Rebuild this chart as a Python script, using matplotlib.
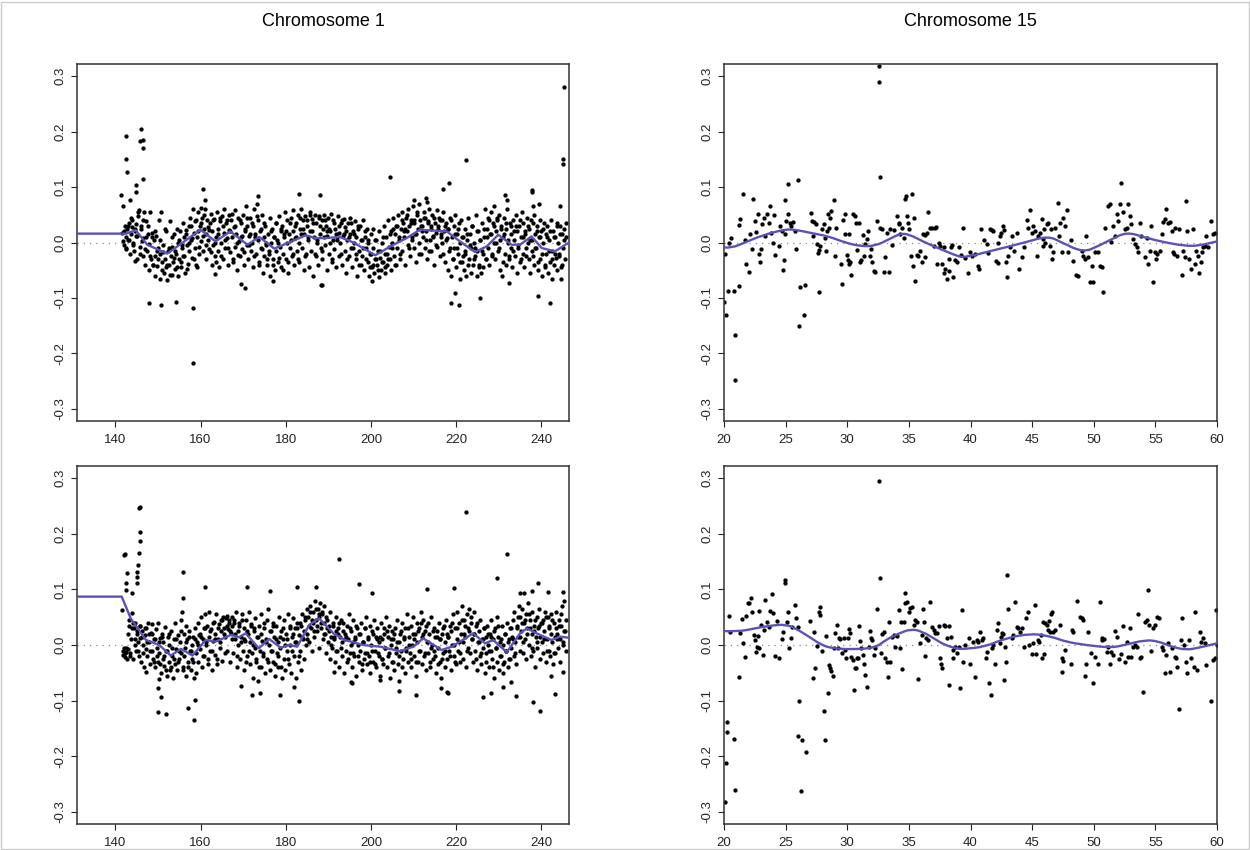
import matplotlib
matplotlib.use("Agg")
import matplotlib.pyplot as plt
from matplotlib.patches import Rectangle, PathPatch
from matplotlib.path import Path

plt.rcParams['font.family'] = ['Liberation Sans', 'DejaVu Sans']

# ---------------- titles / ticks ----------------
titles = ["Chromosome 1", "Chromosome 15"]
chr1_xticks = [140, 160, 180, 200, 220, 240]
chr15_xticks = [20, 25, 30, 35, 40, 45, 50, 55, 60]
yticks = [-0.3, -0.2, -0.1, 0.0, 0.1, 0.2, 0.3]
ytick_labels = ["-0.3", "-0.2", "-0.1", "0.0", "0.1", "0.2", "0.3"]
chr1_xlim = (131.0, 246.5)
chr15_xlim = (20.0, 60.0)

# ---------------- top-left: chromosome 1, sample A ----------------
tl_x = [
 141.6,141.8,142.0,142.2,142.4,142.6,142.8,143.0,
 143.2,143.4,143.6,143.8,144.0,144.2,144.4,144.6,144.8,145.0,
 145.2,145.4,145.6,145.8,146.0,146.2,146.4,146.6,146.8,147.0,
 147.2,147.4,147.6,147.8,148.0,148.2,148.4,148.6,148.8,149.0,
 149.2,149.4,149.6,149.8,150.0,150.2,150.4,150.6,150.8,151.0,
 151.2,151.4,151.6,151.8,152.0,152.2,152.4,152.6,152.8,153.0,
 153.2,153.4,153.6,153.8,154.0,154.2,154.4,154.6,154.8,155.0,
 155.2,155.4,155.6,155.8,156.0,156.2,156.4,156.6,156.8,157.0,
 157.2,157.4,157.6,157.8,158.0,158.2,158.4,158.6,158.8,159.0,
 159.2,159.4,159.6,159.8,160.0,160.2,160.4,160.6,160.8,161.0,
 161.2,161.4,161.6,161.8,162.0,162.2,162.4,162.6,162.8,163.0,
 163.2,163.4,163.6,163.8,164.0,164.2,164.4,164.6,164.8,165.0,
 165.2,165.4,165.6,165.8,166.0,166.2,166.4,166.6,166.8,167.0,
 167.2,167.4,167.6,167.8,168.0,168.2,168.4,168.6,168.8,169.0,
 169.2,169.4,169.6,169.8,170.0,170.2,170.4,170.6,170.8,171.0,
 171.2,171.4,171.6,171.8,172.0,172.2,172.4,172.6,172.8,173.0,
 173.2,173.4,173.6,173.8,174.0,174.2,174.4,174.6,174.8,175.0,
 175.2,175.4,175.6,175.8,176.0,176.2,176.4,176.6,176.8,177.0,
 177.2,177.4,177.6,177.8,178.0,178.2,178.4,178.6,178.8,179.0,
 179.2,179.4,179.6,179.8,180.0,180.2,180.4,180.6,180.8,181.0,
 181.2,181.4,181.6,181.8,182.0,182.2,182.4,182.6,182.8,183.0,
 183.2,183.4,183.6,183.8,184.0,184.2,184.4,184.6,184.8,185.0,
 185.2,185.4,185.6,185.8,186.0,186.2,186.4,186.6,186.8,187.0,
 187.2,187.4,187.6,187.8,188.0,188.2,188.4,188.6,188.8,189.0,
 189.2,189.4,189.6,189.8,190.0,190.2,190.4,190.6,190.8,191.0,
 191.2,191.4,191.6,191.8,192.0,192.2,192.4,192.6,192.8,193.0,
 193.2,193.4,193.6,193.8,194.0,194.2,194.4,194.6,194.8,195.0,
 195.2,195.4,195.6,195.8,196.0,196.2,196.4,196.6,196.8,197.0,
 197.2,197.4,197.6,197.8,198.0,198.2,198.4,198.6,198.8,199.0,
 199.2,199.4,199.6,199.8,200.0,200.2,200.4,200.6,200.8,201.0,
 201.2,201.4,201.6,201.8,202.0,202.2,202.4,202.6,202.8,203.0,
 203.2,203.4,203.6,203.8,204.0,204.2,204.4,204.6,204.8,205.0,
 205.2,205.4,205.6,205.8,206.0,206.2,206.4,206.6,206.8,207.0,
 207.2,207.4,207.6,207.8,208.0,208.2,208.4,208.6,208.8,209.0,
 209.2,209.4,209.6,209.8,210.0,210.2,210.4,210.6,210.8,211.0,
 211.2,211.4,211.6,211.8,212.0,212.2,212.4,212.6,212.8,213.0,
 213.2,213.4,213.6,213.8,214.0,214.2,214.4,214.6,214.8,215.0,
 215.2,215.4,215.6,215.8,216.0,216.2,216.4,216.6,216.8,217.0,
 217.2,217.4,217.6,217.8,218.0,218.2,218.4,218.6,218.8,219.0,
 219.2,219.4,219.6,219.8,220.0,220.2,220.4,220.6,220.8,221.0,
 221.2,221.4,221.6,221.8,222.0,222.2,222.4,222.6,222.8,223.0,
 223.2,223.4,223.6,223.8,224.0,224.2,224.4,224.6,224.8,225.0,
 225.2,225.4,225.6,225.8,226.0,226.2,226.4,226.6,226.8,227.0,
 227.2,227.4,227.6,227.8,228.0,228.2,228.4,228.6,228.8,229.0,
 229.2,229.4,229.6,229.8,230.0,230.2,230.4,230.6,230.8,231.0,
 231.2,231.4,231.6,231.8,232.0,232.2,232.4,232.6,232.8,233.0,
 233.2,233.4,233.6,233.8,234.0,234.2,234.4,234.6,234.8,235.0,
 235.2,235.4,235.6,235.8,236.0,236.2,236.4,236.6,236.8,237.0,
 237.2,237.4,237.6,237.8,238.0,238.2,238.4,238.6,238.8,239.0,
 239.2,239.4,239.6,239.8,240.0,240.2,240.4,240.6,240.8,241.0,
 241.2,241.4,241.6,241.8,242.0,242.2,242.4,242.6,242.8,243.0,
 243.2,243.4,243.6,243.8,244.0,244.2,244.4,244.6,244.8,245.0,
 245.3,245.6,245.9,
]
tl_y = [
 .018,.002,-.005,.030,.010,-.012,.024,.004,
 .035,-.020,.015,.028,.040,.000,-.015,.020,.033,-.030,
 .012,.055,.058,-.008,.025,.002,.040,-.025,.055,-.040,
 .010,-.015,.030,-.050,-.002,.055,-.030,.018,-.040,.005,
 -.060,-.025,.012,-.042,-.010,.040,-.065,-.020,.055,-.035,
 -.005,-.055,-.030,.020,-.045,-.068,-.015,-.040,.038,-.025,
 -.058,-.008,-.035,.015,-.048,-.020,.025,-.060,.000,-.030,
 .020,-.045,-.010,.035,-.025,.010,-.055,.022,-.005,-.038,
 .030,-.015,.045,.005,-.028,.060,.018,-.010,.038,-.040,
 .010,.055,-.020,.030,.062,.002,.045,-.015,.025,.060,
 .015,-.030,.040,.005,-.012,.035,.052,-.040,.020,-.005,
 .042,-.025,.010,.055,-.015,.025,-.045,.038,.000,.048,
 -.030,.018,.060,-.010,.035,.008,-.040,.050,.022,-.018,
 .040,.010,-.035,.028,.058,-.008,.015,-.050,.045,.002,
 -.025,.035,.010,-.012,.050,-.040,.020,.065,-.005,.030,
 -.030,.012,.045,-.015,.000,.030,-.045,.060,.015,-.020,
 .070,.005,.040,-.035,.020,-.010,.050,-.055,.010,-.025,
 .030,-.005,-.040,.015,-.020,.045,-.060,.000,.025,-.030,
 .010,-.050,.035,-.015,.005,-.035,.048,-.008,.020,-.045,
 .030,-.020,.010,.055,-.030,.000,.040,-.055,.015,-.010,
 .045,-.025,.020,.058,-.040,.008,.035,-.015,.050,.000,
 -.035,.025,.060,-.010,.040,-.050,.015,.048,-.020,.030,
 .005,-.045,.055,.020,-.015,.042,-.060,.010,.050,-.025,
 .035,.000,-.040,.048,.015,-.010,.040,-.030,.025,.050,
 -.005,.030,-.050,.012,.045,-.020,.020,.052,-.035,.005,
 .040,-.012,.025,-.045,.010,.048,-.025,.018,.000,.035,
 -.040,.012,.042,-.015,.028,-.055,.005,.035,-.025,.015,
 .045,-.010,-.045,.020,.000,.038,-.030,.010,-.060,.025,
 -.015,.030,-.040,.005,-.025,.040,-.050,.010,-.010,.025,
 -.035,.000,-.060,-.020,.015,-.045,-.010,.025,-.055,-.030,
 .005,-.040,-.015,-.062,.020,-.028,-.050,.000,-.035,.030,
 -.020,-.055,.010,-.040,.040,-.008,-.030,.020,-.050,.000,
 .045,-.025,.015,-.040,.030,-.010,.050,.005,-.030,.025,
 .055,-.015,.035,.010,-.040,.045,.020,-.005,.060,.030,
 -.025,.040,.010,.065,-.010,.035,.015,-.035,.050,.025,
 .000,.070,.040,-.020,.030,.010,.055,-.010,.045,.020,
 -.030,.038,.060,.005,.025,-.015,.050,.012,-.040,.035,
 .018,.058,-.008,.030,.045,-.025,.010,.040,.000,.055,
 .020,-.035,.035,.008,-.050,.025,-.015,.045,-.060,.010,
 -.030,.030,-.010,.050,-.045,.015,-.020,.035,-.065,.000,
 .040,-.035,.010,-.050,.025,-.015,-.060,.005,.045,-.030,
 .015,-.055,-.010,.030,-.040,.000,-.025,.050,-.060,-.015,
 .020,-.040,.005,-.055,.035,-.020,-.045,.010,.060,-.030,
 .025,-.010,.045,-.040,.015,.055,-.025,.035,.000,.065,
 -.030,.020,.040,-.015,.050,.005,-.050,.030,-.060,.010,
 .045,-.020,.025,-.040,.060,.000,-.030,.035,-.010,.015,
 -.045,.040,.005,-.025,.050,-.055,.020,-.005,.030,-.035,
 .010,.055,-.020,.035,-.045,.015,-.010,.045,.000,-.030,
 .025,-.055,.040,.005,-.025,.050,-.040,.015,-.010,.030,
 -.050,.010,.040,-.030,.020,-.060,.000,.035,-.045,.015,
 -.020,.030,-.055,.005,-.035,.040,-.015,-.065,.020,-.040,
 .010,-.028,.035,-.050,.000,-.020,.030,-.045,.015,-.010,
 .025,-.030,.010,
]
# second pass of probes in the same chromosome-1 window (denser core of the cloud)
tl_x2 = [
 142.1,142.5,142.9,143.3,143.7, 144.1,144.5,144.9,145.3,145.7, 146.1,146.5,146.9,147.3,147.7,
 148.1,148.5,148.9,149.3,149.7, 150.1,150.5,150.9,151.3,151.7, 152.1,152.5,152.9,153.3,153.7,
 154.1,154.5,154.9,155.3,155.7, 156.1,156.5,156.9,157.3,157.7, 158.1,158.5,158.9,159.3,159.7,
 160.1,160.5,160.9,161.3,161.7, 162.1,162.5,162.9,163.3,163.7, 164.1,164.5,164.9,165.3,165.7,
 166.1,166.5,166.9,167.3,167.7, 168.1,168.5,168.9,169.3,169.7, 170.1,170.5,170.9,171.3,171.7,
 172.1,172.5,172.9,173.3,173.7, 174.1,174.5,174.9,175.3,175.7, 176.1,176.5,176.9,177.3,177.7,
 178.1,178.5,178.9,179.3,179.7, 180.1,180.5,180.9,181.3,181.7, 182.1,182.5,182.9,183.3,183.7,
 184.1,184.5,184.9,185.3,185.7, 186.1,186.5,186.9,187.3,187.7, 188.1,188.5,188.9,189.3,189.7,
 190.1,190.5,190.9,191.3,191.7, 192.1,192.5,192.9,193.3,193.7, 194.1,194.5,194.9,195.3,195.7,
 196.1,196.5,196.9,197.3,197.7, 198.1,198.5,198.9,199.3,199.7, 200.1,200.5,200.9,201.3,201.7,
 202.1,202.5,202.9,203.3,203.7, 204.1,204.5,204.9,205.3,205.7, 206.1,206.5,206.9,207.3,207.7,
 208.1,208.5,208.9,209.3,209.7, 210.1,210.5,210.9,211.3,211.7, 212.1,212.5,212.9,213.3,213.7,
 214.1,214.5,214.9,215.3,215.7, 216.1,216.5,216.9,217.3,217.7, 218.1,218.5,218.9,219.3,219.7,
 220.1,220.5,220.9,221.3,221.7, 222.1,222.5,222.9,223.3,223.7, 224.1,224.5,224.9,225.3,225.7,
 226.1,226.5,226.9,227.3,227.7, 228.1,228.5,228.9,229.3,229.7, 230.1,230.5,230.9,231.3,231.7,
 232.1,232.5,232.9,233.3,233.7, 234.1,234.5,234.9,235.3,235.7, 236.1,236.5,236.9,237.3,237.7,
 238.1,238.5,238.9,239.3,239.7, 240.1,240.5,240.9,241.3,241.7, 242.1,242.5,242.9,243.3,243.7,
 244.1,244.5,244.9,245.3,245.7,
]
tl_y2 = [
 .020,-.010,.030,.005,.045, -.005,.025,.012,.048,-.020, .030,.008,-.012,.038,.015,
 -.025,.010,-.040,.020,-.015, -.030,.005,-.050,-.018,.025, -.040,-.010,-.058,.010,-.028,
 -.015,-.045,.005,-.035,-.005, -.025,.015,-.048,.000,.030, .008,-.030,.040,.020,-.008,
 .035,.012,.050,-.005,.028, .022,-.018,.040,.000,-.035, .015,.045,-.025,.030,.005,
 .040,-.010,.020,.052,-.030, .030,.000,-.022,.040,.012, -.018,.025,.045,-.005,.015,
 .035,-.025,.010,.048,-.040, .025,-.012,.035,.000,-.030, -.015,.020,-.040,.010,.035,
 .000,-.028,.025,-.050,.015, .020,-.035,.035,.005,-.020, .030,.010,-.030,.045,.015,
 .025,-.025,.040,.010,.050, .020,.035,-.020,.005,.045, .030,-.015,.010,.040,.020,
 .025,.000,-.030,.035,.015, .005,.030,-.020,.040,.015, .020,-.030,.010,.035,-.010,
 .015,-.020,.030,-.040,.005, -.010,.020,-.030,.005,-.045, -.020,-.040,.005,-.030,-.050,
 -.015,-.035,.010,-.045,-.020, -.030,.015,-.010,.025,-.040, .030,.010,-.020,.040,.020,
 .025,.050,-.010,.035,.005, .040,.015,.055,-.020,.030, .020,.045,.005,.035,-.015,
 .030,.010,.045,-.005,.025, .040,.015,-.020,.030,.005, .025,-.010,.040,-.030,.015,
 -.010,.025,-.035,.010,-.025, -.020,.015,-.040,-.005,.030, -.030,-.010,.020,-.045,.005,
 -.015,.025,-.030,.010,.040, .015,-.020,.030,.000,.045, -.010,.025,-.035,.015,.035,
 .005,-.025,.030,-.015,.020, .030,-.010,.040,-.030,.010, .020,-.025,.030,.005,-.015,
 .035,-.010,.020,-.035,.010, -.020,.025,-.040,.010,-.015, .020,-.030,.010,-.020,.030,
 -.025,.015,-.040,.005,.035,
]
tl_out_x = [142.5,142.5,142.7,146.0,145.9,146.4,146.5,146.6,144.9,144.9,141.4,141.9,143.5,147.8,150.7,
            154.2,158.3,158.3,160.5,161.1,169.5,170.5,173.4,183.0,188.1,188.4,144.6,177.1,163.5,159.1,
            245.3,245.0,245.0,222.3,204.5,216.9,218.3,218.8,220.6,219.7,225.5,239.2,242.1,244.7,244.5,
            188.2,200.2,232.5,237.7,237.9,231.5,231.9,213.0,213.2,210.1,238.0,239.5]
tl_out_y = [.193,.150,.127,.204,.183,.185,.170,.115,.104,.092,.086,.065,.077,-.109,-.113,
            -.108,-.118,-.217,.097,.077,-.074,-.082,.083,.088,.086,-.076,-.034,-.070,-.056,-.044,
            .280,.150,.141,.148,.118,.097,.108,-.110,-.113,-.091,-.100,-.097,-.110,-.065,.065,
            -.076,-.070,-.073,.095,.092,.086,.077,.080,.073,.077,.065,.070]
tl_line_x = [131.0,142.5,144.8,147.5,151.8,152.2,160.0,163.5,167.0,171.0,173.8,177.3,180.8,184.7,187.0,
             189.4,192.7,195.9,201.0,205.3,208.4,211.5,217.8,220.9,224.4,227.2,229.9,233.0,235.0,237.7,
             240.1,243.2,246.5]
tl_line_y = [0.016,0.016,0.022,-0.004,-0.019,-0.020,0.023,0.002,0.020,-0.004,0.010,-0.011,0.000,0.013,0.008,
             0.008,0.010,0.000,-0.023,-0.004,0.008,0.023,0.020,0.002,-0.017,-0.007,0.014,-0.004,-0.004,0.011,
             -0.010,-0.016,0.000]

# ---------------- bottom-left: chromosome 1, sample B ----------------
bl_x = [
 141.7,141.9,142.1,142.3,142.5,142.7,142.9,143.1,
 143.3,143.5,143.7,143.9,144.1,144.3,144.5,144.7,144.9,145.1,
 145.3,145.5,145.7,145.9,146.1,146.3,146.5,146.7,146.9,147.1,
 147.3,147.5,147.7,147.9,148.1,148.3,148.5,148.7,148.9,149.1,
 149.3,149.5,149.7,149.9,150.1,150.3,150.5,150.7,150.9,151.1,
 151.3,151.5,151.7,151.9,152.1,152.3,152.5,152.7,152.9,153.1,
 153.3,153.5,153.7,153.9,154.1,154.3,154.5,154.7,154.9,155.1,
 155.3,155.5,155.7,155.9,156.1,156.3,156.5,156.7,156.9,157.1,
 157.3,157.5,157.7,157.9,158.1,158.3,158.5,158.7,158.9,159.1,
 159.3,159.5,159.7,159.9,160.1,160.3,160.5,160.7,160.9,161.1,
 161.3,161.5,161.7,161.9,162.1,162.3,162.5,162.7,162.9,163.1,
 163.3,163.5,163.7,163.9,164.1,164.3,164.5,164.7,164.9,165.1,
 165.3,165.5,165.7,165.9,166.1,166.3,166.5,166.7,166.9,167.1,
 167.3,167.5,167.7,167.9,168.1,168.3,168.5,168.7,168.9,169.1,
 169.3,169.5,169.7,169.9,170.1,170.3,170.5,170.7,170.9,171.1,
 171.3,171.5,171.7,171.9,172.1,172.3,172.5,172.7,172.9,173.1,
 173.3,173.5,173.7,173.9,174.1,174.3,174.5,174.7,174.9,175.1,
 175.3,175.5,175.7,175.9,176.1,176.3,176.5,176.7,176.9,177.1,
 177.3,177.5,177.7,177.9,178.1,178.3,178.5,178.7,178.9,179.1,
 179.3,179.5,179.7,179.9,180.1,180.3,180.5,180.7,180.9,181.1,
 181.3,181.5,181.7,181.9,182.1,182.3,182.5,182.7,182.9,183.1,
 183.3,183.5,183.7,183.9,184.1,184.3,184.5,184.7,184.9,185.1,
 185.3,185.5,185.7,185.9,186.1,186.3,186.5,186.7,186.9,187.1,
 187.3,187.5,187.7,187.9,188.1,188.3,188.5,188.7,188.9,189.1,
 189.3,189.5,189.7,189.9,190.1,190.3,190.5,190.7,190.9,191.1,
 191.3,191.5,191.7,191.9,192.1,192.3,192.5,192.7,192.9,193.1,
 193.3,193.5,193.7,193.9,194.1,194.3,194.5,194.7,194.9,195.1,
 195.3,195.5,195.7,195.9,196.1,196.3,196.5,196.7,196.9,197.1,
 197.3,197.5,197.7,197.9,198.1,198.3,198.5,198.7,198.9,199.1,
 199.3,199.5,199.7,199.9,200.1,200.3,200.5,200.7,200.9,201.1,
 201.3,201.5,201.7,201.9,202.1,202.3,202.5,202.7,202.9,203.1,
 203.3,203.5,203.7,203.9,204.1,204.3,204.5,204.7,204.9,205.1,
 205.3,205.5,205.7,205.9,206.1,206.3,206.5,206.7,206.9,207.1,
 207.3,207.5,207.7,207.9,208.1,208.3,208.5,208.7,208.9,209.1,
 209.3,209.5,209.7,209.9,210.1,210.3,210.5,210.7,210.9,211.1,
 211.3,211.5,211.7,211.9,212.1,212.3,212.5,212.7,212.9,213.1,
 213.3,213.5,213.7,213.9,214.1,214.3,214.5,214.7,214.9,215.1,
 215.3,215.5,215.7,215.9,216.1,216.3,216.5,216.7,216.9,217.1,
 217.3,217.5,217.7,217.9,218.1,218.3,218.5,218.7,218.9,219.1,
 219.3,219.5,219.7,219.9,220.1,220.3,220.5,220.7,220.9,221.1,
 221.3,221.5,221.7,221.9,222.1,222.3,222.5,222.7,222.9,223.1,
 223.3,223.5,223.7,223.9,224.1,224.3,224.5,224.7,224.9,225.1,
 225.3,225.5,225.7,225.9,226.1,226.3,226.5,226.7,226.9,227.1,
 227.3,227.5,227.7,227.9,228.1,228.3,228.5,228.7,228.9,229.1,
 229.3,229.5,229.7,229.9,230.1,230.3,230.5,230.7,230.9,231.1,
 231.3,231.5,231.7,231.9,232.1,232.3,232.5,232.7,232.9,233.1,
 233.3,233.5,233.7,233.9,234.1,234.3,234.5,234.7,234.9,235.1,
 235.3,235.5,235.7,235.9,236.1,236.3,236.5,236.7,236.9,237.1,
 237.3,237.5,237.7,237.9,238.1,238.3,238.5,238.7,238.9,239.1,
 239.3,239.5,239.7,239.9,240.1,240.3,240.5,240.7,240.9,241.1,
 241.3,241.5,241.7,241.9,242.1,242.3,242.5,242.7,242.9,243.1,
 243.3,243.5,243.7,243.9,244.1,244.3,244.5,244.7,244.9,245.1,
 245.3,245.6,245.9,
]
bl_y = [
 -.010,-.018,-.005,-.022,-.012,-.025,-.008,.035,
 .045,-.015,.010,.058,-.025,.030,.000,.040,-.010,.020,
 .005,-.020,.035,.012,-.030,.025,.000,-.040,.018,-.008,
 .030,-.020,.040,.005,-.035,.022,-.010,.038,-.025,.010,
 -.040,.028,-.005,-.030,.040,-.015,.012,-.050,.020,-.025,
 .005,-.038,.032,-.010,-.055,.015,-.030,.000,-.045,.025,
 -.020,-.060,.010,-.035,.040,-.008,-.045,.018,-.025,.005,
 .045,-.015,.060,-.040,.020,-.005,.035,-.055,.010,-.030,
 .025,-.010,-.045,.000,-.025,.015,-.060,.030,-.015,.005,
 .040,-.030,.018,-.008,.050,-.040,.010,.030,-.020,.055,
 .000,.035,-.025,.015,.060,-.010,.028,-.045,.008,.042,
 -.018,.020,.055,-.035,.010,.038,-.005,.045,.025,-.028,
 .050,.030,.015,.048,-.010,.052,.028,.040,-.030,.022,
 .050,.035,-.015,.045,.010,.060,-.040,.025,.000,.040,
 -.025,.015,.055,-.010,.030,-.045,.008,.045,-.020,.020,
 .060,-.035,.005,.038,-.015,-.060,.025,-.005,.048,-.030,
 .015,-.065,.035,-.010,.055,-.040,.008,-.020,.030,-.050,
 .010,.045,-.025,.065,.000,-.045,.025,-.010,.040,-.030,
 .015,-.055,.035,-.015,.005,-.040,.050,-.005,.025,-.060,
 .010,-.025,.045,-.045,.020,-.010,.055,-.035,.000,.030,
 -.050,.015,.048,-.020,.030,-.060,.005,.040,-.030,.018,
 -.010,.035,-.045,.055,.010,-.025,.045,.000,.065,.020,
 .050,.005,.070,.030,-.010,.060,.040,.015,.080,.045,
 .025,.065,-.005,.050,.075,.030,.055,.010,.040,.070,
 .020,-.015,.045,.005,.035,-.025,.060,.015,-.005,.040,
 .010,-.030,.025,.050,-.010,.030,-.040,.015,.045,-.020,
 .005,.040,-.050,.020,-.010,.035,-.030,.010,.055,-.015,
 .025,-.040,.005,.045,-.020,.015,-.055,.030,.000,-.030,
 .020,-.010,.040,-.045,.005,-.025,.030,-.015,.050,-.035,
 .010,-.020,.035,-.050,.000,.025,-.030,.045,-.010,.015,
 -.040,.030,-.015,.005,-.055,.040,-.025,.010,-.035,.020,
 -.005,.050,-.040,.015,-.020,.035,-.060,.000,.025,-.030,
 .010,-.045,.030,-.015,.045,-.035,.005,-.065,.020,-.010,
 .040,-.025,.010,-.050,.030,-.005,.055,-.030,.015,-.015,
 .035,-.040,.000,.050,-.020,.020,-.055,.040,.005,-.030,
 .030,-.010,.060,-.035,.015,.045,-.020,.025,-.045,.005,
 .040,-.015,.020,-.040,.050,.000,-.025,.030,-.010,.015,
 -.050,.025,-.005,.040,-.030,.010,-.060,.020,-.015,.035,
 -.040,.005,.045,-.025,.015,-.010,.035,-.045,.025,.000,
 .055,-.020,.030,-.035,.010,.060,-.010,.040,-.030,.020,
 .070,.005,-.025,.045,.015,-.040,.055,-.005,.030,.065,
 -.015,.040,.010,-.030,.060,.020,-.010,.035,-.045,.005,
 .025,-.020,.045,-.035,.010,-.005,.030,-.050,.015,-.015,
 .035,.000,-.040,.020,-.010,.045,-.025,.010,-.060,.030,
 -.005,.050,-.030,.015,-.045,.005,-.020,.035,-.050,.000,
 -.030,.020,-.010,.040,-.040,.010,-.025,.030,-.005,.015,
 .045,-.020,.060,.005,-.035,.035,.015,.070,-.010,.050,
 .025,.065,-.015,.040,.010,.055,-.025,.030,.075,.000,
 .045,-.020,.020,.060,-.010,.035,-.040,.015,.050,-.005,
 .030,.065,-.025,.040,.005,.045,-.015,.025,.060,-.030,
 .010,.050,-.010,.035,-.020,.055,.005,-.035,.040,.015,
 -.015,.060,.020,-.005,.045,.010,-.030,.035,.070,.000,
 .080,.025,-.010,
]
bl_x2 = [
 142.2,142.6,143.0,143.4,143.8, 144.2,144.6,145.0,145.4,145.8, 146.2,146.6,147.0,147.4,147.8,
 148.2,148.6,149.0,149.4,149.8, 150.2,150.6,151.0,151.4,151.8, 152.2,152.6,153.0,153.4,153.8,
 154.2,154.6,155.0,155.4,155.8, 156.2,156.6,157.0,157.4,157.8, 158.2,158.6,159.0,159.4,159.8,
 160.2,160.6,161.0,161.4,161.8, 162.2,162.6,163.0,163.4,163.8, 164.2,164.6,165.0,165.4,165.8,
 166.2,166.6,167.0,167.4,167.8, 168.2,168.6,169.0,169.4,169.8, 170.2,170.6,171.0,171.4,171.8,
 172.2,172.6,173.0,173.4,173.8, 174.2,174.6,175.0,175.4,175.8, 176.2,176.6,177.0,177.4,177.8,
 178.2,178.6,179.0,179.4,179.8, 180.2,180.6,181.0,181.4,181.8, 182.2,182.6,183.0,183.4,183.8,
 184.2,184.6,185.0,185.4,185.8, 186.2,186.6,187.0,187.4,187.8, 188.2,188.6,189.0,189.4,189.8,
 190.2,190.6,191.0,191.4,191.8, 192.2,192.6,193.0,193.4,193.8, 194.2,194.6,195.0,195.4,195.8,
 196.2,196.6,197.0,197.4,197.8, 198.2,198.6,199.0,199.4,199.8, 200.2,200.6,201.0,201.4,201.8,
 202.2,202.6,203.0,203.4,203.8, 204.2,204.6,205.0,205.4,205.8, 206.2,206.6,207.0,207.4,207.8,
 208.2,208.6,209.0,209.4,209.8, 210.2,210.6,211.0,211.4,211.8, 212.2,212.6,213.0,213.4,213.8,
 214.2,214.6,215.0,215.4,215.8, 216.2,216.6,217.0,217.4,217.8, 218.2,218.6,219.0,219.4,219.8,
 220.2,220.6,221.0,221.4,221.8, 222.2,222.6,223.0,223.4,223.8, 224.2,224.6,225.0,225.4,225.8,
 226.2,226.6,227.0,227.4,227.8, 228.2,228.6,229.0,229.4,229.8, 230.2,230.6,231.0,231.4,231.8,
 232.2,232.6,233.0,233.4,233.8, 234.2,234.6,235.0,235.4,235.8, 236.2,236.6,237.0,237.4,237.8,
 238.2,238.6,239.0,239.4,239.8, 240.2,240.6,241.0,241.4,241.8, 242.2,242.6,243.0,243.4,243.8,
 244.2,244.6,245.0,245.4,245.8,
]
bl_y2 = [
 -.015,-.005,.020,-.020,.030, .040,.010,.025,-.010,.035, .015,-.015,.030,.005,.020,
 -.010,.020,-.030,.010,-.020, .005,-.035,.015,-.020,-.045, -.010,.020,-.040,-.005,-.025,
 .010,-.030,-.010,.025,-.045, -.020,.005,-.040,.015,-.010, -.030,.010,-.050,.000,.020,
 .015,-.020,.030,.005,-.035, .025,-.010,.040,.010,-.025, .030,.005,.045,.020,-.015,
 .035,.045,.025,.010,.040, .020,-.020,.035,.005,.045, .010,-.030,.025,-.010,.035,
 .000,.030,-.025,.015,-.040, .020,-.015,.040,.005,-.030, .025,-.010,.035,-.035,.010,
 -.020,.015,-.040,.030,.000, .010,-.025,.035,-.010,.020, .005,.030,-.020,.040,.015,
 .025,.050,.010,.035,.060, .045,.025,.065,.035,.055, .040,.060,.020,.050,.030,
 .025,.000,.035,.015,-.010, .020,.040,-.005,.025,.010, .015,-.025,.030,.000,-.015,
 .010,.035,-.020,.020,-.035, .005,.030,-.015,.015,-.030, -.010,.020,-.035,.010,-.020,
 .015,-.025,.030,-.005,.025, -.015,.010,-.030,.020,-.005, .005,-.020,.025,-.040,.015,
 -.010,.030,.000,-.025,.020, .010,-.030,.025,-.010,.040, .020,-.015,.035,.005,-.030,
 -.005,.025,-.020,.015,-.035, .010,-.025,.030,-.010,.020, .015,-.020,.040,.000,-.030,
 .030,.005,-.015,.045,.020, .035,-.010,.025,.050,.010, .020,-.025,.040,.005,-.015,
 .010,.030,-.030,.020,-.010, .015,-.040,.025,-.005,.035, -.020,.010,-.035,.020,-.010,
 .005,-.025,.030,.010,-.015, .030,.050,.015,.040,.005, .045,.020,.055,.030,-.005,
 .025,.045,.005,.035,.015, .040,.010,.050,-.010,.030, .020,.045,-.015,.030,.010,
 .035,.055,.005,.025,.045,
]
bl_out_x = [145.6,145.8,145.8,145.9,142.0,142.3,145.5,145.3,145.2,145.1,145.1,142.7,142.6,142.5,144.0,
            141.5,155.8,155.9,161.1,170.8,176.4,182.6,187.0,149.9,152.0,158.4,157.1,158.8,150.7,150.0,
            169.4,172.0,174.0,178.7,183.1,181.9,147.2,150.3,
            222.3,231.9,192.6,229.7,197.3,219.6,213.1,200.2,239.3,241.6,235.0,236.0,237.7,245.0,239.7,
            238.0,243.2,226.2,228.3,234.1,210.6,206.7,217.8,218.2,216.4,195.3,195.5,191.3,202.1,245.2,
            242.3,230.9,232.8]
bl_out_y = [.247,.249,.204,.187,.162,.163,.165,.144,.132,.123,.111,.129,.111,.099,.093,
            .063,.132,.084,.105,.104,.097,.105,.104,-.120,-.124,-.135,-.114,-.099,-.093,-.078,
            -.073,-.090,-.087,-.090,-.101,-.075,-.048,-.061,
            .239,.164,.154,.121,.110,.102,.100,.093,.111,.096,.093,.093,.097,.096,-.119,
            -.103,-.088,-.094,-.087,-.092,-.090,-.083,-.084,-.087,-.078,-.066,-.069,-.049,-.063,-.049,
            -.055,-.075,-.066]
bl_line_x = [131.0,141.5,143.6,147.2,150.3,153.0,155.4,158.1,161.2,163.5,167.1,169.0,170.6,173.7,176.1,
             178.8,180.8,182.7,185.5,187.8,191.2,193.9,198.2,202.1,206.8,210.0,212.3,216.6,219.0,224.0,
             226.8,228.7,231.9,235.0,236.6,238.9,242.4,244.4,246.5]
bl_line_y = [0.087,0.087,0.048,0.009,0.000,-0.019,-0.007,-0.019,0.009,0.006,0.018,0.014,0.021,-0.006,0.011,
             -0.005,0.000,-0.003,0.036,0.048,0.021,0.009,0.000,-0.003,-0.011,-0.003,0.012,-0.009,-0.003,0.021,
             0.003,0.009,-0.013,0.021,0.030,0.021,0.009,0.015,0.013]

# ---------------- top-right: chromosome 15, sample A ----------------
tr_x = [
 20.38,20.57,21.24,21.30,21.54,21.68,21.81,22.00,22.14,22.27,
 22.35,22.49,22.62,22.76,22.81,22.89,23.00,23.08,23.22,23.30,
 23.49,23.62,23.76,23.84,23.97,24.05,24.16,24.43,24.51,24.70,
 24.78,24.84,24.92,24.97,25.03,25.16,25.16,25.32,25.46,25.57,
 25.78,25.86,26.00,26.19,26.59,26.11,26.46,27.05,27.14,27.22,
 27.27,27.46,27.54,27.62,27.68,27.73,27.81,27.95,28.08,28.16,
 28.27,28.35,28.43,28.54,28.62,28.70,28.89,28.97,29.08,29.46,
 29.57,29.65,29.78,29.84,29.97,30.05,30.11,30.16,30.22,30.30,
 30.43,30.59,30.70,30.78,30.92,31.05,31.14,31.24,31.32,31.46,
 31.59,31.68,31.86,31.95,32.00,32.14,32.27,32.41,32.68,32.81,
 32.95,33.08,33.22,33.35,33.49,33.62,33.76,34.03,34.16,34.22,
 34.30,34.43,34.57,34.70,34.78,34.84,34.92,34.97,35.19,35.24,
 35.32,35.43,35.51,35.65,35.78,35.92,36.05,36.11,36.27,36.32,
 36.46,36.54,36.73,36.86,37.00,37.08,37.19,37.27,37.41,37.54,
 37.68,37.81,37.89,37.95,38.08,38.22,38.27,38.43,38.49,38.62,
 38.76,38.89,39.03,39.24,39.43,39.57,39.78,39.97,
 40.14,40.36,40.58,40.69,40.85,41.12,41.31,41.44,41.58,41.71,
 41.85,42.04,42.20,42.25,42.39,42.47,42.66,42.74,42.85,42.93,
 43.06,43.20,43.39,43.55,43.74,43.93,44.14,44.36,44.55,44.69,
 44.82,44.96,45.09,45.23,45.36,45.50,45.63,45.77,45.85,45.90,
 45.98,46.04,46.17,46.31,46.44,46.52,46.63,46.71,46.85,47.06,
 47.17,47.25,47.39,47.52,47.66,47.79,47.93,48.14,48.33,48.60,
 48.74,49.01,49.14,49.28,49.41,49.55,49.68,49.82,49.96,50.09,
 50.36,50.50,50.63,50.77,50.90,51.17,51.31,51.44,51.58,51.71,
 51.85,51.98,52.12,52.25,52.39,52.52,52.66,52.79,52.93,53.06,
 53.20,53.33,53.47,53.60,53.74,53.87,54.14,54.28,54.41,54.55,
 54.68,54.82,54.96,55.09,55.17,55.36,55.50,55.63,55.77,55.90,
 56.04,56.17,56.31,56.44,56.52,56.63,56.79,56.90,57.12,57.25,
 57.39,57.52,57.60,57.71,57.93,58.06,58.20,58.33,58.47,58.52,
 58.69,58.79,58.87,59.01,59.14,59.28,59.55,59.69,59.87,
 32.54,32.54,32.68,20.10,20.02,20.20,20.30,20.80,21.20,20.90,20.90,
]
tr_y = [
 -0.001,0.008,0.031,0.042,0.087,0.004,-0.038,-0.053,0.015,-0.012,
 0.078,0.039,0.019,0.051,-0.020,-0.035,-0.012,0.034,0.045,0.012,
 0.051,0.036,0.065,0.018,0.000,0.049,-0.022,-0.007,0.030,0.021,
 -0.049,-0.031,0.016,0.077,0.039,0.106,0.051,0.035,0.030,0.037,
 0.021,-0.012,0.113,-0.080,-0.077,-0.150,-0.130,0.054,0.039,0.012,
 0.037,0.033,-0.003,-0.019,-0.089,-0.013,-0.006,0.024,0.033,0.009,
 -0.015,0.021,0.051,0.027,0.045,0.057,0.077,-0.025,0.026,-0.039,
 -0.075,0.041,0.015,0.051,-0.023,-0.031,0.015,-0.039,-0.035,-0.059,
 0.051,0.048,0.036,-0.013,0.036,-0.035,-0.031,0.013,-0.025,-0.003,
 0.006,0.021,-0.024,-0.012,-0.035,-0.051,-0.053,0.039,0.027,0.024,
 -0.053,-0.027,0.018,-0.053,0.024,-0.005,0.023,0.048,0.036,0.033,
 0.015,0.027,0.009,0.079,0.083,0.047,0.036,0.025,-0.024,0.087,
 -0.043,0.045,-0.069,-0.023,-0.024,-0.015,-0.035,0.015,0.013,-0.027,
 0.017,0.055,0.027,0.027,-0.006,0.026,0.028,-0.039,0.000,-0.006,
 -0.039,-0.055,-0.009,-0.047,-0.066,-0.051,-0.029,-0.009,-0.005,-0.062,
 -0.032,-0.035,-0.009,-0.023,0.027,-0.028,-0.055,-0.018,
 -0.024,-0.021,-0.042,-0.048,0.024,0.005,-0.003,-0.019,0.024,0.023,
 0.021,-0.033,-0.037,0.000,0.011,0.017,0.030,0.023,-0.036,-0.062,
 -0.024,-0.009,0.012,-0.015,0.017,-0.047,-0.027,-0.009,0.040,0.027,
 0.058,0.018,0.030,0.021,-0.024,0.012,0.018,0.043,0.006,-0.007,
 0.024,0.000,0.033,0.036,-0.006,0.024,-0.029,-0.018,0.026,0.072,
 0.012,0.036,-0.018,0.045,0.029,0.058,-0.018,0.005,-0.033,-0.059,
 -0.060,-0.015,-0.024,-0.030,0.011,-0.027,-0.072,-0.042,-0.072,-0.017,
 -0.018,-0.043,-0.045,-0.090,0.026,0.065,0.069,0.001,0.030,0.012,
 0.051,0.039,0.069,0.107,0.055,0.024,0.027,0.069,0.048,0.033,
 0.006,-0.003,-0.009,-0.018,0.036,0.011,-0.027,0.009,-0.039,-0.015,
 0.030,-0.071,-0.017,-0.030,-0.021,-0.015,0.015,0.037,0.042,0.060,
 0.035,0.037,0.021,-0.018,-0.021,0.027,-0.024,0.024,-0.059,-0.015,
 -0.027,0.075,0.021,-0.030,-0.048,0.024,-0.039,-0.015,-0.024,-0.055,
 -0.036,-0.018,-0.009,-0.006,0.012,-0.009,0.039,0.015,0.017,
 0.318,0.290,0.118,-0.021,-0.108,-0.131,-0.087,-0.087,-0.079,-0.167,-0.248,
]
tr_line_x = [20.0,20.6,21.7,23.1,25.0,25.8,27.1,28.5,29.8,31.1,32.3,33.4,34.3,35.0,36.3,37.9,39.0,39.55,
             42.25,44.4,46.3,47.4,49.15,50.4,51.45,52.7,54.15,55.8,57.4,58.5,60.0]
tr_line_y = [-0.009,-0.010,0.000,0.013,0.024,0.023,0.017,0.011,0.000,-0.007,-0.006,0.006,0.016,0.015,0.000,
             -0.015,-0.025,-0.027,-0.012,0.000,0.012,0.000,-0.018,-0.006,0.006,0.019,0.009,0.000,-0.006,
             -0.006,0.002]

# ---------------- bottom-right: chromosome 15, sample B ----------------
br_x = [
 20.05,20.16,20.24,20.24,20.78,20.86,
 20.43,20.51,21.19,21.32,21.46,21.54,21.68,21.81,21.95,22.05,
 22.22,22.27,22.41,22.49,22.59,22.68,22.76,22.81,22.86,23.00,
 23.16,23.22,23.35,23.49,23.62,23.76,23.89,23.95,24.11,24.30,
 24.43,24.70,24.78,24.92,24.97,25.11,25.19,25.30,25.46,25.51,
 25.78,25.84,26.00,26.11,26.00,26.32,26.68,26.27,27.00,27.19,
 27.32,27.41,27.54,27.68,27.76,27.81,27.95,28.08,28.16,28.27,
 28.41,28.49,28.62,28.70,28.81,28.89,29.03,29.16,29.24,29.35,
 29.43,29.57,29.70,29.84,29.92,30.05,30.11,30.24,30.32,30.43,
 30.51,30.59,30.70,30.78,30.86,30.97,31.05,31.14,31.24,31.32,
 31.46,31.59,31.73,31.86,31.95,32.00,32.14,32.27,32.41,32.54,
 32.68,32.76,32.86,32.95,33.08,33.22,33.30,33.41,33.49,33.62,
 33.76,33.89,34.03,34.16,34.30,34.38,34.43,34.57,34.65,34.70,
 34.84,34.97,35.11,35.24,35.38,35.51,35.65,35.78,35.92,36.05,
 36.11,36.19,36.27,36.38,36.54,36.73,36.86,37.00,37.14,37.27,
 37.41,37.54,37.62,37.68,37.81,37.95,38.08,38.22,38.27,38.43,
 38.54,38.62,38.76,38.89,39.03,39.16,39.30,39.43,39.57,39.84,
 39.97,
 40.23,40.36,40.50,40.63,40.77,40.90,41.04,41.23,41.31,41.50,
 41.66,41.71,41.85,41.98,42.12,42.25,42.39,42.47,42.58,42.66,
 42.74,42.79,42.85,42.93,43.06,43.33,43.47,43.60,43.74,43.87,
 44.01,44.14,44.36,44.47,44.63,44.74,44.96,45.09,45.23,45.28,
 45.44,45.55,45.71,45.77,45.90,45.98,46.04,46.17,46.25,46.36,
 46.44,46.52,46.63,46.71,46.85,47.25,47.39,47.44,47.52,47.66,
 48.14,48.25,48.33,48.68,48.87,49.01,49.14,49.28,49.41,49.55,
 49.77,49.96,50.14,50.36,50.50,50.63,50.68,50.85,51.04,51.17,
 51.31,51.44,51.58,51.71,51.85,52.04,52.20,52.39,52.52,52.66,
 52.79,52.93,53.06,53.20,53.33,53.47,53.60,53.74,53.87,54.01,
 54.14,54.28,54.41,54.47,54.63,54.82,55.01,55.17,55.28,55.50,
 55.63,55.77,55.90,56.04,56.17,56.36,56.58,56.71,56.79,56.90,
 57.06,57.17,57.33,57.52,57.60,57.71,57.93,58.14,58.25,58.41,
 58.60,58.74,58.87,59.01,59.14,59.55,59.69,59.87,59.95,59.98,
]
br_y = [
 -0.283,-0.212,-0.157,-0.138,-0.169,-0.260,
 0.053,0.023,-0.057,0.021,0.047,0.003,-0.021,0.053,0.075,0.076,
 0.085,0.060,0.018,0.009,-0.012,-0.003,0.017,-0.005,0.062,0.036,
 -0.018,0.027,0.081,0.042,0.032,0.061,0.091,0.058,-0.020,0.043,
 -0.023,0.011,0.024,0.111,0.117,0.042,0.060,-0.005,0.012,0.033,
 0.072,0.049,0.032,-0.101,-0.163,-0.171,-0.193,-0.263,0.044,-0.059,
 0.024,-0.042,-0.001,0.060,0.054,0.069,-0.010,-0.119,-0.171,0.016,
 -0.087,-0.036,-0.042,-0.046,-0.055,-0.006,0.021,0.036,-0.005,0.013,
 0.011,-0.015,0.013,-0.009,-0.024,0.012,0.029,0.021,-0.021,-0.027,
 -0.081,-0.041,-0.042,-0.024,-0.023,0.035,0.008,-0.006,-0.018,-0.035,
 -0.054,-0.075,-0.003,0.025,0.012,0.009,-0.018,-0.006,0.065,0.295,
 0.121,-0.015,0.019,0.024,-0.023,-0.030,-0.057,0.042,-0.030,0.015,
 0.018,-0.003,0.017,0.063,-0.005,0.042,-0.043,0.042,0.093,0.075,
 0.078,0.060,0.066,0.069,0.036,0.045,0.042,-0.062,0.003,0.018,
 0.065,0.042,-0.019,0.012,0.009,0.078,0.033,0.027,0.021,0.021,
 0.035,-0.023,-0.035,-0.041,0.036,0.035,0.013,0.035,-0.072,0.015,
 -0.009,-0.023,-0.003,-0.015,-0.003,-0.077,0.063,-0.031,0.000,0.012,
 -0.035,
 0.006,-0.057,0.009,0.006,0.024,0.009,0.012,-0.023,-0.012,-0.069,
 -0.090,-0.006,0.000,-0.035,0.027,0.039,0.003,0.015,0.021,0.019,
 -0.063,-0.003,-0.030,0.126,0.065,0.012,0.018,0.078,0.033,0.030,
 0.024,0.031,-0.003,0.049,0.060,0.000,-0.017,0.003,0.072,-0.017,
 0.009,0.006,0.018,-0.024,0.042,-0.017,0.039,0.036,0.027,0.043,
 0.024,0.055,0.060,0.024,0.027,0.036,-0.023,-0.048,-0.029,-0.009,
 -0.035,0.027,0.023,0.079,0.051,0.048,0.045,-0.055,-0.035,0.024,
 -0.015,-0.069,-0.021,-0.035,0.078,0.013,0.009,0.011,-0.012,-0.003,
 -0.035,-0.012,-0.018,0.025,0.015,-0.025,-0.017,0.035,-0.030,0.006,
 -0.021,0.031,-0.021,-0.003,0.000,-0.003,0.055,-0.023,-0.021,-0.084,
 0.042,0.045,0.099,0.036,-0.011,0.030,0.036,0.051,0.048,-0.003,
 -0.009,-0.051,-0.018,0.003,-0.048,-0.006,-0.021,-0.024,-0.039,-0.115,
 0.009,0.049,0.000,-0.030,-0.051,0.009,-0.023,-0.039,0.060,-0.045,
 0.024,0.006,0.012,0.003,-0.036,-0.101,-0.027,-0.024,0.063,0.000,
]
br_line_x = [20.0,21.2,22.5,23.8,25.0,25.8,26.9,27.9,28.8,30.4,32.3,33.1,34.2,35.2,36.1,37.1,37.9,39.0,39.55,
             41.2,42.8,44.95,46.6,47.7,49.3,51.4,52.5,54.15,55.2,56.3,57.5,58.5,60.0]
br_line_y = [0.025,0.024,0.030,0.035,0.037,0.030,0.015,0.000,-0.006,-0.008,-0.005,0.009,0.021,0.029,0.024,
             0.011,0.000,-0.007,-0.007,-0.003,0.012,0.021,0.015,0.006,0.000,-0.005,0.000,0.009,0.007,-0.003,
             -0.009,-0.005,0.003]

for a, b, name in [(tl_x, tl_y, 'tl'), (bl_x, bl_y, 'bl'), (tr_x, tr_y, 'tr'), (br_x, br_y, 'br'),
                   (tl_x2, tl_y2, 'tl2'), (bl_x2, bl_y2, 'bl2'),
                   (tl_out_x, tl_out_y, 'tlo'), (bl_out_x, bl_out_y, 'blo'),
                   (tl_line_x, tl_line_y, 'tll'), (bl_line_x, bl_line_y, 'bll'),
                   (tr_line_x, tr_line_y, 'trl'), (br_line_x, br_line_y, 'brl')]:
    assert len(a) == len(b), (name, len(a), len(b))

# ---------------- drawing ----------------
LINE_COLOR = '#5a52b8'
fig = plt.figure(figsize=(12.5, 8.5), dpi=100)
W, H = 1250.0, 850.0

def make_ax(left, top, right, bottom):
    return fig.add_axes([left / W, 1 - bottom / H, (right - left) / W, (bottom - top) / H])

def smooth_patch(lx, ly):
    # quadratic-Bezier rendering through the read points (smooth curve look)
    verts = [(lx[0], ly[0])]
    codes = [Path.MOVETO]
    for i in range(1, len(lx) - 1):
        verts += [(lx[i], ly[i]), ((lx[i] + lx[i + 1]) / 2, (ly[i] + ly[i + 1]) / 2)]
        codes += [Path.CURVE3, Path.CURVE3]
    verts.append((lx[-1], ly[-1]))
    codes.append(Path.LINETO)
    return PathPatch(Path(verts, codes), fill=False, edgecolor=LINE_COLOR, lw=1.7, zorder=3)

def draw(ax, xs, ys, lx, ly, xlim, xticks, smooth):
    ax.axhline(0.0, color='#888888', lw=0.9, ls=(0, (1, 4)), zorder=1)
    ax.plot(xs, ys, linestyle='none', marker='o', ms=3.1, color='black', mec='none', zorder=2)
    if smooth:
        ax.add_patch(smooth_patch(lx, ly))
    else:
        ax.plot(lx, ly, color=LINE_COLOR, lw=1.7, zorder=3)
    ax.set_xlim(*xlim)
    ax.set_ylim(-0.322, 0.322)
    ax.set_xticks(xticks)
    ax.set_xticklabels([str(t) for t in xticks])
    ax.set_yticks(yticks)
    ax.set_yticklabels(ytick_labels, rotation=90, va='center')
    ax.tick_params(axis='both', direction='out', length=4.5, width=0.8, labelsize=9.5, colors='#222222')
    ax.tick_params(axis='x', pad=5)
    ax.tick_params(axis='y', pad=3)
    for s in ax.spines.values():
        s.set_linewidth(1.1)
        s.set_color('#333333')

ax_tl = make_ax(77, 64, 569, 421)
ax_tr = make_ax(724, 64, 1217, 421)
ax_bl = make_ax(77, 466, 569, 824)
ax_br = make_ax(724, 466, 1217, 824)

draw(ax_tl, tl_x + tl_x2 + tl_out_x, tl_y + tl_y2 + tl_out_y, tl_line_x, tl_line_y,
     chr1_xlim, chr1_xticks, False)
draw(ax_bl, bl_x + bl_x2 + bl_out_x, bl_y + bl_y2 + bl_out_y, bl_line_x, bl_line_y,
     chr1_xlim, chr1_xticks, False)
draw(ax_tr, tr_x, tr_y, tr_line_x, tr_line_y, chr15_xlim, chr15_xticks, True)
draw(ax_br, br_x, br_y, br_line_x, br_line_y, chr15_xlim, chr15_xticks, True)

fig.text(323 / W, 1 - 22 / H, titles[0], ha='center', va='center', fontsize=13)
fig.text(970 / W, 1 - 22 / H, titles[1], ha='center', va='center', fontsize=13)

fig.patches.append(Rectangle((0.001, 0.001), 0.998, 0.997, transform=fig.transFigure,
                             fill=False, edgecolor='#cccccc', lw=1.0))

fig.savefig('out.png', dpi=100)
